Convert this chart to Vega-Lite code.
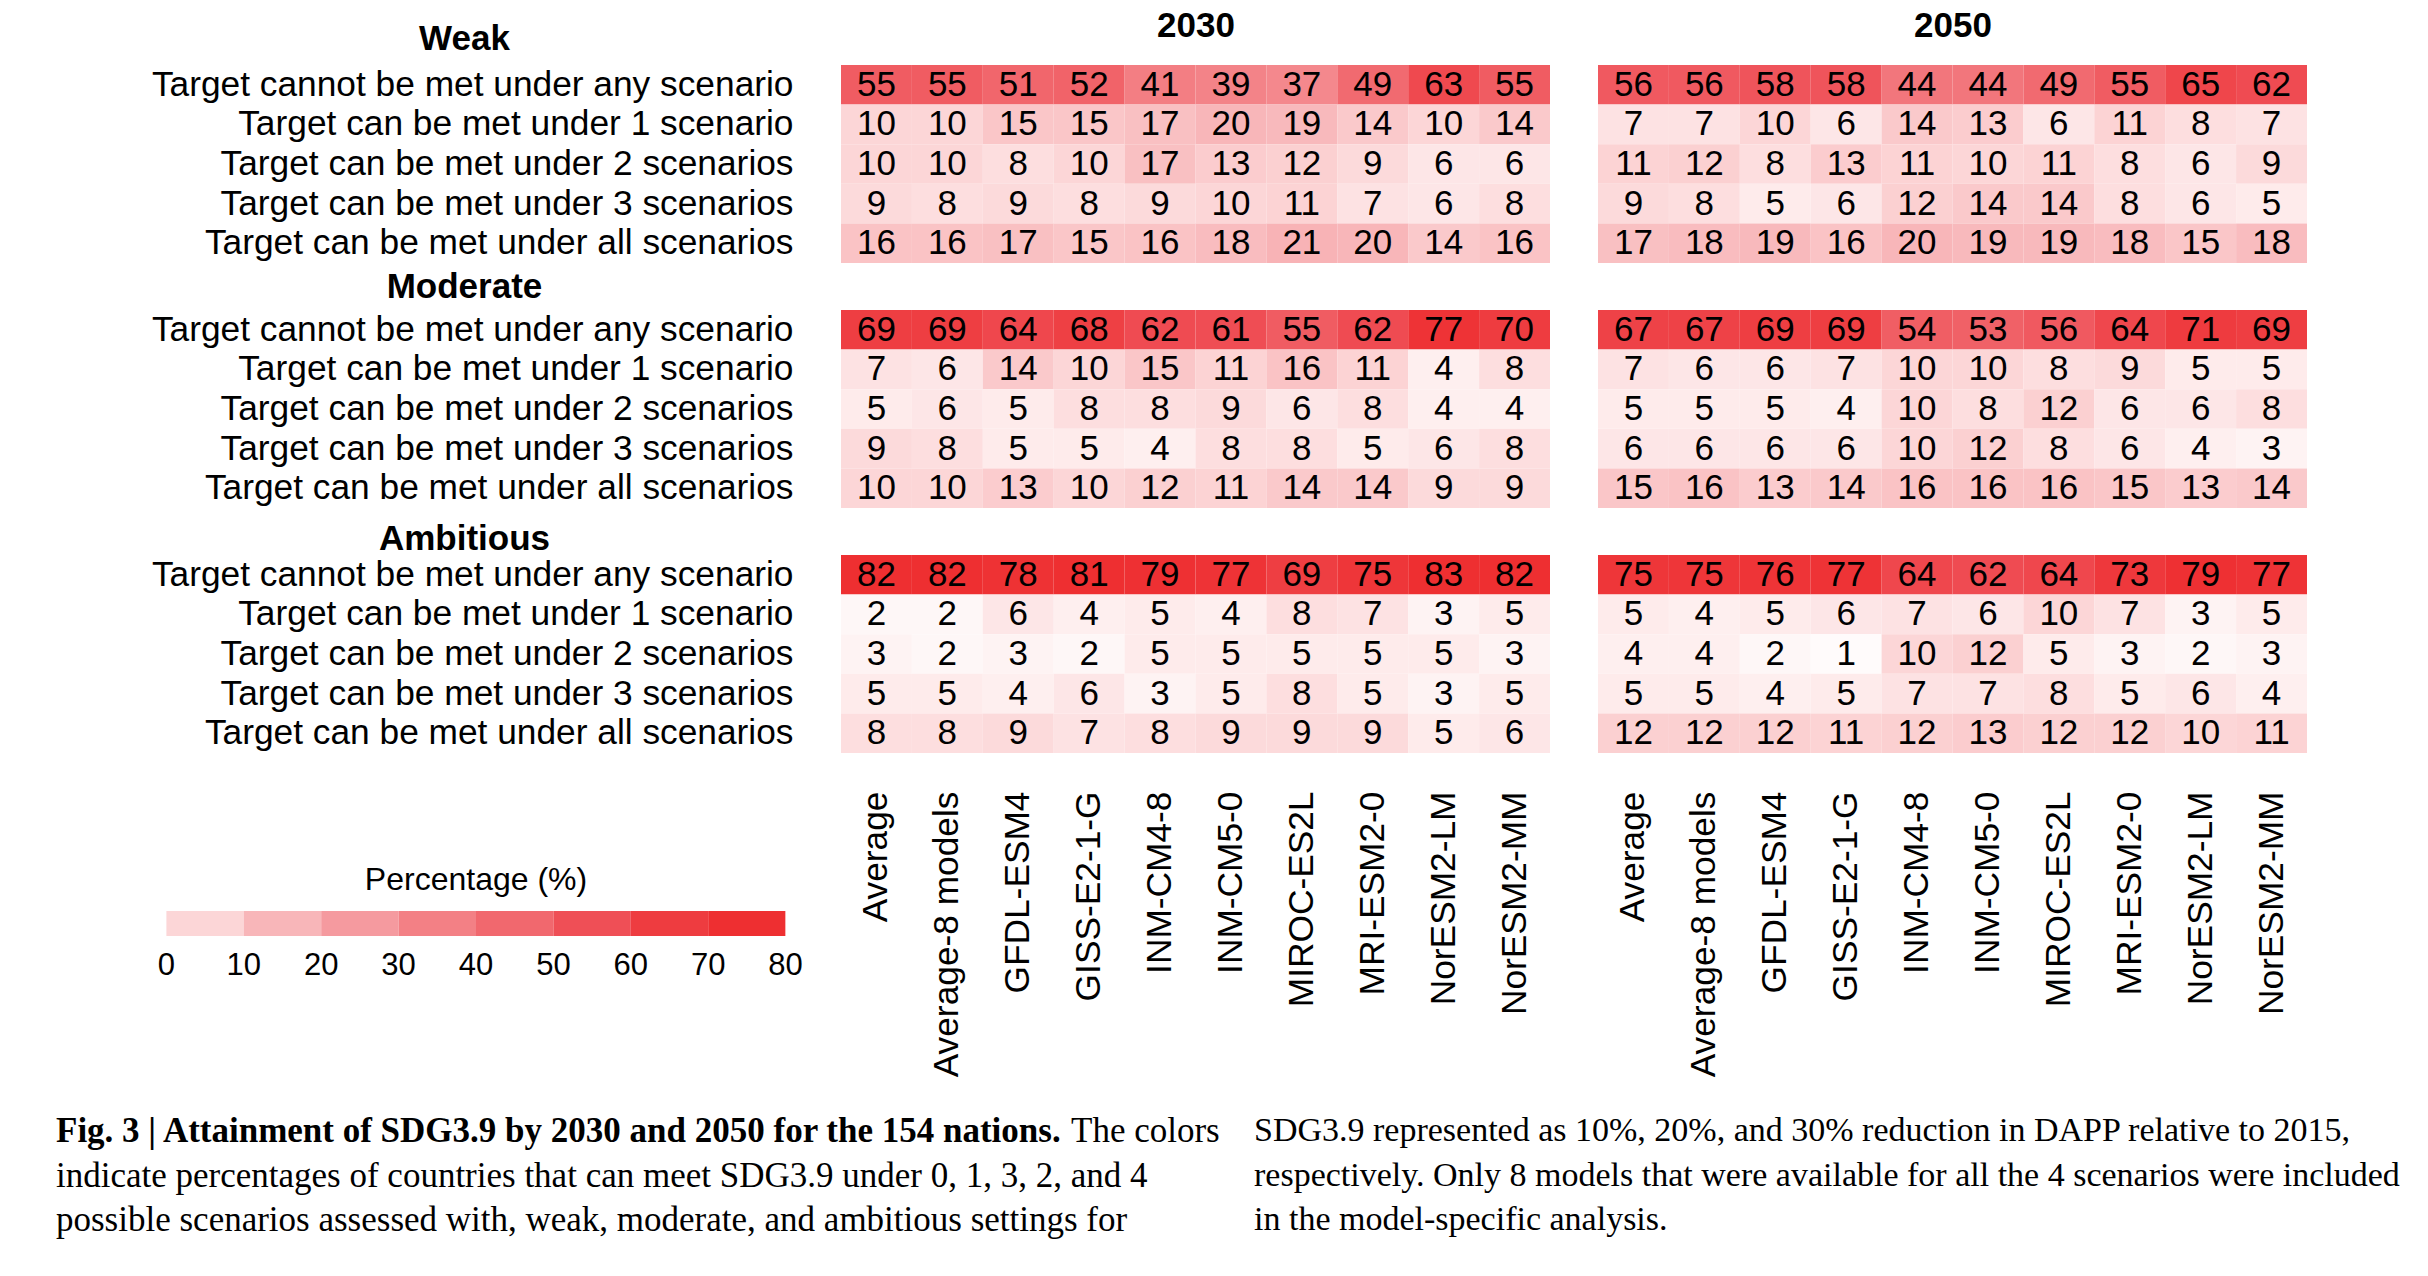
{
"$schema": "https://vega.github.io/schema/vega-lite/v6.json",
"background": "white",
"padding": {"left": 56, "top": 8, "right": 5, "bottom": 5},
"config": {"view": {"stroke": null}, "axis": {"labelColor": "black", "titleColor": "black", "grid": false}},
"datasets": {
"cats": [
{"k":0,"c":"Target cannot be met under any scenario"},
{"k":1,"c":"Target can be met under 1 scenario"},
{"k":2,"c":"Target can be met under 2 scenarios"},
{"k":3,"c":"Target can be met under 3 scenarios"},
{"k":4,"c":"Target can be met under all scenarios"}
],
"caption": [
{"col":0,"line":0,"w":"b","txt":"Fig. 3 | Attainment of SDG3.9 by 2030 and 2050 for the 154 nations."},
{"col":0,"line":0,"w":"r2","txt":"The colors"},
{"col":0,"line":1,"w":"r","txt":"indicate percentages of countries that can meet SDG3.9 under 0, 1, 3, 2, and 4"},
{"col":0,"line":2,"w":"r","txt":"possible scenarios assessed with, weak, moderate, and ambitious settings for"},
{"col":1,"line":0,"w":"r","txt":"SDG3.9 represented as 10%, 20%, and 30% reduction in DAPP relative to 2015,"},
{"col":1,"line":1,"w":"r","txt":"respectively. Only 8 models that were available for all the 4 scenarios were included"},
{"col":1,"line":2,"w":"r","txt":"in the model-specific analysis."}
],
"cells": [
{"s":"Weak","t":2030,"m":"Average","k":0,"v":55},{"s":"Weak","t":2030,"m":"Average-8 models","k":0,"v":55},{"s":"Weak","t":2030,"m":"GFDL-ESM4","k":0,"v":51},{"s":"Weak","t":2030,"m":"GISS-E2-1-G","k":0,"v":52},{"s":"Weak","t":2030,"m":"INM-CM4-8","k":0,"v":41},{"s":"Weak","t":2030,"m":"INM-CM5-0","k":0,"v":39},{"s":"Weak","t":2030,"m":"MIROC-ES2L","k":0,"v":37},{"s":"Weak","t":2030,"m":"MRI-ESM2-0","k":0,"v":49},{"s":"Weak","t":2030,"m":"NorESM2-LM","k":0,"v":63},{"s":"Weak","t":2030,"m":"NorESM2-MM","k":0,"v":55},
{"s":"Weak","t":2030,"m":"Average","k":1,"v":10},{"s":"Weak","t":2030,"m":"Average-8 models","k":1,"v":10},{"s":"Weak","t":2030,"m":"GFDL-ESM4","k":1,"v":15},{"s":"Weak","t":2030,"m":"GISS-E2-1-G","k":1,"v":15},{"s":"Weak","t":2030,"m":"INM-CM4-8","k":1,"v":17},{"s":"Weak","t":2030,"m":"INM-CM5-0","k":1,"v":20},{"s":"Weak","t":2030,"m":"MIROC-ES2L","k":1,"v":19},{"s":"Weak","t":2030,"m":"MRI-ESM2-0","k":1,"v":14},{"s":"Weak","t":2030,"m":"NorESM2-LM","k":1,"v":10},{"s":"Weak","t":2030,"m":"NorESM2-MM","k":1,"v":14},
{"s":"Weak","t":2030,"m":"Average","k":2,"v":10},{"s":"Weak","t":2030,"m":"Average-8 models","k":2,"v":10},{"s":"Weak","t":2030,"m":"GFDL-ESM4","k":2,"v":8},{"s":"Weak","t":2030,"m":"GISS-E2-1-G","k":2,"v":10},{"s":"Weak","t":2030,"m":"INM-CM4-8","k":2,"v":17},{"s":"Weak","t":2030,"m":"INM-CM5-0","k":2,"v":13},{"s":"Weak","t":2030,"m":"MIROC-ES2L","k":2,"v":12},{"s":"Weak","t":2030,"m":"MRI-ESM2-0","k":2,"v":9},{"s":"Weak","t":2030,"m":"NorESM2-LM","k":2,"v":6},{"s":"Weak","t":2030,"m":"NorESM2-MM","k":2,"v":6},
{"s":"Weak","t":2030,"m":"Average","k":3,"v":9},{"s":"Weak","t":2030,"m":"Average-8 models","k":3,"v":8},{"s":"Weak","t":2030,"m":"GFDL-ESM4","k":3,"v":9},{"s":"Weak","t":2030,"m":"GISS-E2-1-G","k":3,"v":8},{"s":"Weak","t":2030,"m":"INM-CM4-8","k":3,"v":9},{"s":"Weak","t":2030,"m":"INM-CM5-0","k":3,"v":10},{"s":"Weak","t":2030,"m":"MIROC-ES2L","k":3,"v":11},{"s":"Weak","t":2030,"m":"MRI-ESM2-0","k":3,"v":7},{"s":"Weak","t":2030,"m":"NorESM2-LM","k":3,"v":6},{"s":"Weak","t":2030,"m":"NorESM2-MM","k":3,"v":8},
{"s":"Weak","t":2030,"m":"Average","k":4,"v":16},{"s":"Weak","t":2030,"m":"Average-8 models","k":4,"v":16},{"s":"Weak","t":2030,"m":"GFDL-ESM4","k":4,"v":17},{"s":"Weak","t":2030,"m":"GISS-E2-1-G","k":4,"v":15},{"s":"Weak","t":2030,"m":"INM-CM4-8","k":4,"v":16},{"s":"Weak","t":2030,"m":"INM-CM5-0","k":4,"v":18},{"s":"Weak","t":2030,"m":"MIROC-ES2L","k":4,"v":21},{"s":"Weak","t":2030,"m":"MRI-ESM2-0","k":4,"v":20},{"s":"Weak","t":2030,"m":"NorESM2-LM","k":4,"v":14},{"s":"Weak","t":2030,"m":"NorESM2-MM","k":4,"v":16},
{"s":"Weak","t":2050,"m":"Average","k":0,"v":56},{"s":"Weak","t":2050,"m":"Average-8 models","k":0,"v":56},{"s":"Weak","t":2050,"m":"GFDL-ESM4","k":0,"v":58},{"s":"Weak","t":2050,"m":"GISS-E2-1-G","k":0,"v":58},{"s":"Weak","t":2050,"m":"INM-CM4-8","k":0,"v":44},{"s":"Weak","t":2050,"m":"INM-CM5-0","k":0,"v":44},{"s":"Weak","t":2050,"m":"MIROC-ES2L","k":0,"v":49},{"s":"Weak","t":2050,"m":"MRI-ESM2-0","k":0,"v":55},{"s":"Weak","t":2050,"m":"NorESM2-LM","k":0,"v":65},{"s":"Weak","t":2050,"m":"NorESM2-MM","k":0,"v":62},
{"s":"Weak","t":2050,"m":"Average","k":1,"v":7},{"s":"Weak","t":2050,"m":"Average-8 models","k":1,"v":7},{"s":"Weak","t":2050,"m":"GFDL-ESM4","k":1,"v":10},{"s":"Weak","t":2050,"m":"GISS-E2-1-G","k":1,"v":6},{"s":"Weak","t":2050,"m":"INM-CM4-8","k":1,"v":14},{"s":"Weak","t":2050,"m":"INM-CM5-0","k":1,"v":13},{"s":"Weak","t":2050,"m":"MIROC-ES2L","k":1,"v":6},{"s":"Weak","t":2050,"m":"MRI-ESM2-0","k":1,"v":11},{"s":"Weak","t":2050,"m":"NorESM2-LM","k":1,"v":8},{"s":"Weak","t":2050,"m":"NorESM2-MM","k":1,"v":7},
{"s":"Weak","t":2050,"m":"Average","k":2,"v":11},{"s":"Weak","t":2050,"m":"Average-8 models","k":2,"v":12},{"s":"Weak","t":2050,"m":"GFDL-ESM4","k":2,"v":8},{"s":"Weak","t":2050,"m":"GISS-E2-1-G","k":2,"v":13},{"s":"Weak","t":2050,"m":"INM-CM4-8","k":2,"v":11},{"s":"Weak","t":2050,"m":"INM-CM5-0","k":2,"v":10},{"s":"Weak","t":2050,"m":"MIROC-ES2L","k":2,"v":11},{"s":"Weak","t":2050,"m":"MRI-ESM2-0","k":2,"v":8},{"s":"Weak","t":2050,"m":"NorESM2-LM","k":2,"v":6},{"s":"Weak","t":2050,"m":"NorESM2-MM","k":2,"v":9},
{"s":"Weak","t":2050,"m":"Average","k":3,"v":9},{"s":"Weak","t":2050,"m":"Average-8 models","k":3,"v":8},{"s":"Weak","t":2050,"m":"GFDL-ESM4","k":3,"v":5},{"s":"Weak","t":2050,"m":"GISS-E2-1-G","k":3,"v":6},{"s":"Weak","t":2050,"m":"INM-CM4-8","k":3,"v":12},{"s":"Weak","t":2050,"m":"INM-CM5-0","k":3,"v":14},{"s":"Weak","t":2050,"m":"MIROC-ES2L","k":3,"v":14},{"s":"Weak","t":2050,"m":"MRI-ESM2-0","k":3,"v":8},{"s":"Weak","t":2050,"m":"NorESM2-LM","k":3,"v":6},{"s":"Weak","t":2050,"m":"NorESM2-MM","k":3,"v":5},
{"s":"Weak","t":2050,"m":"Average","k":4,"v":17},{"s":"Weak","t":2050,"m":"Average-8 models","k":4,"v":18},{"s":"Weak","t":2050,"m":"GFDL-ESM4","k":4,"v":19},{"s":"Weak","t":2050,"m":"GISS-E2-1-G","k":4,"v":16},{"s":"Weak","t":2050,"m":"INM-CM4-8","k":4,"v":20},{"s":"Weak","t":2050,"m":"INM-CM5-0","k":4,"v":19},{"s":"Weak","t":2050,"m":"MIROC-ES2L","k":4,"v":19},{"s":"Weak","t":2050,"m":"MRI-ESM2-0","k":4,"v":18},{"s":"Weak","t":2050,"m":"NorESM2-LM","k":4,"v":15},{"s":"Weak","t":2050,"m":"NorESM2-MM","k":4,"v":18},
{"s":"Moderate","t":2030,"m":"Average","k":0,"v":69},{"s":"Moderate","t":2030,"m":"Average-8 models","k":0,"v":69},{"s":"Moderate","t":2030,"m":"GFDL-ESM4","k":0,"v":64},{"s":"Moderate","t":2030,"m":"GISS-E2-1-G","k":0,"v":68},{"s":"Moderate","t":2030,"m":"INM-CM4-8","k":0,"v":62},{"s":"Moderate","t":2030,"m":"INM-CM5-0","k":0,"v":61},{"s":"Moderate","t":2030,"m":"MIROC-ES2L","k":0,"v":55},{"s":"Moderate","t":2030,"m":"MRI-ESM2-0","k":0,"v":62},{"s":"Moderate","t":2030,"m":"NorESM2-LM","k":0,"v":77},{"s":"Moderate","t":2030,"m":"NorESM2-MM","k":0,"v":70},
{"s":"Moderate","t":2030,"m":"Average","k":1,"v":7},{"s":"Moderate","t":2030,"m":"Average-8 models","k":1,"v":6},{"s":"Moderate","t":2030,"m":"GFDL-ESM4","k":1,"v":14},{"s":"Moderate","t":2030,"m":"GISS-E2-1-G","k":1,"v":10},{"s":"Moderate","t":2030,"m":"INM-CM4-8","k":1,"v":15},{"s":"Moderate","t":2030,"m":"INM-CM5-0","k":1,"v":11},{"s":"Moderate","t":2030,"m":"MIROC-ES2L","k":1,"v":16},{"s":"Moderate","t":2030,"m":"MRI-ESM2-0","k":1,"v":11},{"s":"Moderate","t":2030,"m":"NorESM2-LM","k":1,"v":4},{"s":"Moderate","t":2030,"m":"NorESM2-MM","k":1,"v":8},
{"s":"Moderate","t":2030,"m":"Average","k":2,"v":5},{"s":"Moderate","t":2030,"m":"Average-8 models","k":2,"v":6},{"s":"Moderate","t":2030,"m":"GFDL-ESM4","k":2,"v":5},{"s":"Moderate","t":2030,"m":"GISS-E2-1-G","k":2,"v":8},{"s":"Moderate","t":2030,"m":"INM-CM4-8","k":2,"v":8},{"s":"Moderate","t":2030,"m":"INM-CM5-0","k":2,"v":9},{"s":"Moderate","t":2030,"m":"MIROC-ES2L","k":2,"v":6},{"s":"Moderate","t":2030,"m":"MRI-ESM2-0","k":2,"v":8},{"s":"Moderate","t":2030,"m":"NorESM2-LM","k":2,"v":4},{"s":"Moderate","t":2030,"m":"NorESM2-MM","k":2,"v":4},
{"s":"Moderate","t":2030,"m":"Average","k":3,"v":9},{"s":"Moderate","t":2030,"m":"Average-8 models","k":3,"v":8},{"s":"Moderate","t":2030,"m":"GFDL-ESM4","k":3,"v":5},{"s":"Moderate","t":2030,"m":"GISS-E2-1-G","k":3,"v":5},{"s":"Moderate","t":2030,"m":"INM-CM4-8","k":3,"v":4},{"s":"Moderate","t":2030,"m":"INM-CM5-0","k":3,"v":8},{"s":"Moderate","t":2030,"m":"MIROC-ES2L","k":3,"v":8},{"s":"Moderate","t":2030,"m":"MRI-ESM2-0","k":3,"v":5},{"s":"Moderate","t":2030,"m":"NorESM2-LM","k":3,"v":6},{"s":"Moderate","t":2030,"m":"NorESM2-MM","k":3,"v":8},
{"s":"Moderate","t":2030,"m":"Average","k":4,"v":10},{"s":"Moderate","t":2030,"m":"Average-8 models","k":4,"v":10},{"s":"Moderate","t":2030,"m":"GFDL-ESM4","k":4,"v":13},{"s":"Moderate","t":2030,"m":"GISS-E2-1-G","k":4,"v":10},{"s":"Moderate","t":2030,"m":"INM-CM4-8","k":4,"v":12},{"s":"Moderate","t":2030,"m":"INM-CM5-0","k":4,"v":11},{"s":"Moderate","t":2030,"m":"MIROC-ES2L","k":4,"v":14},{"s":"Moderate","t":2030,"m":"MRI-ESM2-0","k":4,"v":14},{"s":"Moderate","t":2030,"m":"NorESM2-LM","k":4,"v":9},{"s":"Moderate","t":2030,"m":"NorESM2-MM","k":4,"v":9},
{"s":"Moderate","t":2050,"m":"Average","k":0,"v":67},{"s":"Moderate","t":2050,"m":"Average-8 models","k":0,"v":67},{"s":"Moderate","t":2050,"m":"GFDL-ESM4","k":0,"v":69},{"s":"Moderate","t":2050,"m":"GISS-E2-1-G","k":0,"v":69},{"s":"Moderate","t":2050,"m":"INM-CM4-8","k":0,"v":54},{"s":"Moderate","t":2050,"m":"INM-CM5-0","k":0,"v":53},{"s":"Moderate","t":2050,"m":"MIROC-ES2L","k":0,"v":56},{"s":"Moderate","t":2050,"m":"MRI-ESM2-0","k":0,"v":64},{"s":"Moderate","t":2050,"m":"NorESM2-LM","k":0,"v":71},{"s":"Moderate","t":2050,"m":"NorESM2-MM","k":0,"v":69},
{"s":"Moderate","t":2050,"m":"Average","k":1,"v":7},{"s":"Moderate","t":2050,"m":"Average-8 models","k":1,"v":6},{"s":"Moderate","t":2050,"m":"GFDL-ESM4","k":1,"v":6},{"s":"Moderate","t":2050,"m":"GISS-E2-1-G","k":1,"v":7},{"s":"Moderate","t":2050,"m":"INM-CM4-8","k":1,"v":10},{"s":"Moderate","t":2050,"m":"INM-CM5-0","k":1,"v":10},{"s":"Moderate","t":2050,"m":"MIROC-ES2L","k":1,"v":8},{"s":"Moderate","t":2050,"m":"MRI-ESM2-0","k":1,"v":9},{"s":"Moderate","t":2050,"m":"NorESM2-LM","k":1,"v":5},{"s":"Moderate","t":2050,"m":"NorESM2-MM","k":1,"v":5},
{"s":"Moderate","t":2050,"m":"Average","k":2,"v":5},{"s":"Moderate","t":2050,"m":"Average-8 models","k":2,"v":5},{"s":"Moderate","t":2050,"m":"GFDL-ESM4","k":2,"v":5},{"s":"Moderate","t":2050,"m":"GISS-E2-1-G","k":2,"v":4},{"s":"Moderate","t":2050,"m":"INM-CM4-8","k":2,"v":10},{"s":"Moderate","t":2050,"m":"INM-CM5-0","k":2,"v":8},{"s":"Moderate","t":2050,"m":"MIROC-ES2L","k":2,"v":12},{"s":"Moderate","t":2050,"m":"MRI-ESM2-0","k":2,"v":6},{"s":"Moderate","t":2050,"m":"NorESM2-LM","k":2,"v":6},{"s":"Moderate","t":2050,"m":"NorESM2-MM","k":2,"v":8},
{"s":"Moderate","t":2050,"m":"Average","k":3,"v":6},{"s":"Moderate","t":2050,"m":"Average-8 models","k":3,"v":6},{"s":"Moderate","t":2050,"m":"GFDL-ESM4","k":3,"v":6},{"s":"Moderate","t":2050,"m":"GISS-E2-1-G","k":3,"v":6},{"s":"Moderate","t":2050,"m":"INM-CM4-8","k":3,"v":10},{"s":"Moderate","t":2050,"m":"INM-CM5-0","k":3,"v":12},{"s":"Moderate","t":2050,"m":"MIROC-ES2L","k":3,"v":8},{"s":"Moderate","t":2050,"m":"MRI-ESM2-0","k":3,"v":6},{"s":"Moderate","t":2050,"m":"NorESM2-LM","k":3,"v":4},{"s":"Moderate","t":2050,"m":"NorESM2-MM","k":3,"v":3},
{"s":"Moderate","t":2050,"m":"Average","k":4,"v":15},{"s":"Moderate","t":2050,"m":"Average-8 models","k":4,"v":16},{"s":"Moderate","t":2050,"m":"GFDL-ESM4","k":4,"v":13},{"s":"Moderate","t":2050,"m":"GISS-E2-1-G","k":4,"v":14},{"s":"Moderate","t":2050,"m":"INM-CM4-8","k":4,"v":16},{"s":"Moderate","t":2050,"m":"INM-CM5-0","k":4,"v":16},{"s":"Moderate","t":2050,"m":"MIROC-ES2L","k":4,"v":16},{"s":"Moderate","t":2050,"m":"MRI-ESM2-0","k":4,"v":15},{"s":"Moderate","t":2050,"m":"NorESM2-LM","k":4,"v":13},{"s":"Moderate","t":2050,"m":"NorESM2-MM","k":4,"v":14},
{"s":"Ambitious","t":2030,"m":"Average","k":0,"v":82},{"s":"Ambitious","t":2030,"m":"Average-8 models","k":0,"v":82},{"s":"Ambitious","t":2030,"m":"GFDL-ESM4","k":0,"v":78},{"s":"Ambitious","t":2030,"m":"GISS-E2-1-G","k":0,"v":81},{"s":"Ambitious","t":2030,"m":"INM-CM4-8","k":0,"v":79},{"s":"Ambitious","t":2030,"m":"INM-CM5-0","k":0,"v":77},{"s":"Ambitious","t":2030,"m":"MIROC-ES2L","k":0,"v":69},{"s":"Ambitious","t":2030,"m":"MRI-ESM2-0","k":0,"v":75},{"s":"Ambitious","t":2030,"m":"NorESM2-LM","k":0,"v":83},{"s":"Ambitious","t":2030,"m":"NorESM2-MM","k":0,"v":82},
{"s":"Ambitious","t":2030,"m":"Average","k":1,"v":2},{"s":"Ambitious","t":2030,"m":"Average-8 models","k":1,"v":2},{"s":"Ambitious","t":2030,"m":"GFDL-ESM4","k":1,"v":6},{"s":"Ambitious","t":2030,"m":"GISS-E2-1-G","k":1,"v":4},{"s":"Ambitious","t":2030,"m":"INM-CM4-8","k":1,"v":5},{"s":"Ambitious","t":2030,"m":"INM-CM5-0","k":1,"v":4},{"s":"Ambitious","t":2030,"m":"MIROC-ES2L","k":1,"v":8},{"s":"Ambitious","t":2030,"m":"MRI-ESM2-0","k":1,"v":7},{"s":"Ambitious","t":2030,"m":"NorESM2-LM","k":1,"v":3},{"s":"Ambitious","t":2030,"m":"NorESM2-MM","k":1,"v":5},
{"s":"Ambitious","t":2030,"m":"Average","k":2,"v":3},{"s":"Ambitious","t":2030,"m":"Average-8 models","k":2,"v":2},{"s":"Ambitious","t":2030,"m":"GFDL-ESM4","k":2,"v":3},{"s":"Ambitious","t":2030,"m":"GISS-E2-1-G","k":2,"v":2},{"s":"Ambitious","t":2030,"m":"INM-CM4-8","k":2,"v":5},{"s":"Ambitious","t":2030,"m":"INM-CM5-0","k":2,"v":5},{"s":"Ambitious","t":2030,"m":"MIROC-ES2L","k":2,"v":5},{"s":"Ambitious","t":2030,"m":"MRI-ESM2-0","k":2,"v":5},{"s":"Ambitious","t":2030,"m":"NorESM2-LM","k":2,"v":5},{"s":"Ambitious","t":2030,"m":"NorESM2-MM","k":2,"v":3},
{"s":"Ambitious","t":2030,"m":"Average","k":3,"v":5},{"s":"Ambitious","t":2030,"m":"Average-8 models","k":3,"v":5},{"s":"Ambitious","t":2030,"m":"GFDL-ESM4","k":3,"v":4},{"s":"Ambitious","t":2030,"m":"GISS-E2-1-G","k":3,"v":6},{"s":"Ambitious","t":2030,"m":"INM-CM4-8","k":3,"v":3},{"s":"Ambitious","t":2030,"m":"INM-CM5-0","k":3,"v":5},{"s":"Ambitious","t":2030,"m":"MIROC-ES2L","k":3,"v":8},{"s":"Ambitious","t":2030,"m":"MRI-ESM2-0","k":3,"v":5},{"s":"Ambitious","t":2030,"m":"NorESM2-LM","k":3,"v":3},{"s":"Ambitious","t":2030,"m":"NorESM2-MM","k":3,"v":5},
{"s":"Ambitious","t":2030,"m":"Average","k":4,"v":8},{"s":"Ambitious","t":2030,"m":"Average-8 models","k":4,"v":8},{"s":"Ambitious","t":2030,"m":"GFDL-ESM4","k":4,"v":9},{"s":"Ambitious","t":2030,"m":"GISS-E2-1-G","k":4,"v":7},{"s":"Ambitious","t":2030,"m":"INM-CM4-8","k":4,"v":8},{"s":"Ambitious","t":2030,"m":"INM-CM5-0","k":4,"v":9},{"s":"Ambitious","t":2030,"m":"MIROC-ES2L","k":4,"v":9},{"s":"Ambitious","t":2030,"m":"MRI-ESM2-0","k":4,"v":9},{"s":"Ambitious","t":2030,"m":"NorESM2-LM","k":4,"v":5},{"s":"Ambitious","t":2030,"m":"NorESM2-MM","k":4,"v":6},
{"s":"Ambitious","t":2050,"m":"Average","k":0,"v":75},{"s":"Ambitious","t":2050,"m":"Average-8 models","k":0,"v":75},{"s":"Ambitious","t":2050,"m":"GFDL-ESM4","k":0,"v":76},{"s":"Ambitious","t":2050,"m":"GISS-E2-1-G","k":0,"v":77},{"s":"Ambitious","t":2050,"m":"INM-CM4-8","k":0,"v":64},{"s":"Ambitious","t":2050,"m":"INM-CM5-0","k":0,"v":62},{"s":"Ambitious","t":2050,"m":"MIROC-ES2L","k":0,"v":64},{"s":"Ambitious","t":2050,"m":"MRI-ESM2-0","k":0,"v":73},{"s":"Ambitious","t":2050,"m":"NorESM2-LM","k":0,"v":79},{"s":"Ambitious","t":2050,"m":"NorESM2-MM","k":0,"v":77},
{"s":"Ambitious","t":2050,"m":"Average","k":1,"v":5},{"s":"Ambitious","t":2050,"m":"Average-8 models","k":1,"v":4},{"s":"Ambitious","t":2050,"m":"GFDL-ESM4","k":1,"v":5},{"s":"Ambitious","t":2050,"m":"GISS-E2-1-G","k":1,"v":6},{"s":"Ambitious","t":2050,"m":"INM-CM4-8","k":1,"v":7},{"s":"Ambitious","t":2050,"m":"INM-CM5-0","k":1,"v":6},{"s":"Ambitious","t":2050,"m":"MIROC-ES2L","k":1,"v":10},{"s":"Ambitious","t":2050,"m":"MRI-ESM2-0","k":1,"v":7},{"s":"Ambitious","t":2050,"m":"NorESM2-LM","k":1,"v":3},{"s":"Ambitious","t":2050,"m":"NorESM2-MM","k":1,"v":5},
{"s":"Ambitious","t":2050,"m":"Average","k":2,"v":4},{"s":"Ambitious","t":2050,"m":"Average-8 models","k":2,"v":4},{"s":"Ambitious","t":2050,"m":"GFDL-ESM4","k":2,"v":2},{"s":"Ambitious","t":2050,"m":"GISS-E2-1-G","k":2,"v":1},{"s":"Ambitious","t":2050,"m":"INM-CM4-8","k":2,"v":10},{"s":"Ambitious","t":2050,"m":"INM-CM5-0","k":2,"v":12},{"s":"Ambitious","t":2050,"m":"MIROC-ES2L","k":2,"v":5},{"s":"Ambitious","t":2050,"m":"MRI-ESM2-0","k":2,"v":3},{"s":"Ambitious","t":2050,"m":"NorESM2-LM","k":2,"v":2},{"s":"Ambitious","t":2050,"m":"NorESM2-MM","k":2,"v":3},
{"s":"Ambitious","t":2050,"m":"Average","k":3,"v":5},{"s":"Ambitious","t":2050,"m":"Average-8 models","k":3,"v":5},{"s":"Ambitious","t":2050,"m":"GFDL-ESM4","k":3,"v":4},{"s":"Ambitious","t":2050,"m":"GISS-E2-1-G","k":3,"v":5},{"s":"Ambitious","t":2050,"m":"INM-CM4-8","k":3,"v":7},{"s":"Ambitious","t":2050,"m":"INM-CM5-0","k":3,"v":7},{"s":"Ambitious","t":2050,"m":"MIROC-ES2L","k":3,"v":8},{"s":"Ambitious","t":2050,"m":"MRI-ESM2-0","k":3,"v":5},{"s":"Ambitious","t":2050,"m":"NorESM2-LM","k":3,"v":6},{"s":"Ambitious","t":2050,"m":"NorESM2-MM","k":3,"v":4},
{"s":"Ambitious","t":2050,"m":"Average","k":4,"v":12},{"s":"Ambitious","t":2050,"m":"Average-8 models","k":4,"v":12},{"s":"Ambitious","t":2050,"m":"GFDL-ESM4","k":4,"v":12},{"s":"Ambitious","t":2050,"m":"GISS-E2-1-G","k":4,"v":11},{"s":"Ambitious","t":2050,"m":"INM-CM4-8","k":4,"v":12},{"s":"Ambitious","t":2050,"m":"INM-CM5-0","k":4,"v":13},{"s":"Ambitious","t":2050,"m":"MIROC-ES2L","k":4,"v":12},{"s":"Ambitious","t":2050,"m":"MRI-ESM2-0","k":4,"v":12},{"s":"Ambitious","t":2050,"m":"NorESM2-LM","k":4,"v":10},{"s":"Ambitious","t":2050,"m":"NorESM2-MM","k":4,"v":11}
]
},
"bounds": "flush",
"spacing": {"row": 47, "column": 48},
"columns": 2,
"concat": [
 {"data": {"name": "cells"}, "width": 709, "height": 198,
  "transform": [{"filter": "datum.s == 'Weak' && datum.t == 2030"}, {"lookup": "k", "from": {"data": {"name": "cats"}, "key": "k", "fields": ["c"]}}],
  "encoding": {
   "x": {"field": "m", "type": "nominal", "sort": null, "scale": {"paddingInner": 0, "paddingOuter": 0},
         "axis": {"orient": "top", "labels": false, "ticks": false, "domain": false, "title": "2030", "titleFont": "Liberation Sans", "titleFontSize": 35, "titleFontWeight": "bold", "titleBaseline": "alphabetic", "titleY": -29}},
   "y": {"field": "c", "type": "nominal", "sort": {"field": "k", "op": "min"}, "scale": {"paddingInner": 0, "paddingOuter": 0},
         "axis": {"title": "Weak", "titleAngle": 0, "titleAlign": "center", "titleBaseline": "alphabetic", "titleX": -377, "titleY": -16, "titleFont": "Liberation Sans", "titleFontSize": 35, "titleFontWeight": "bold", "labelFont": "Liberation Sans", "labelFontSize": 35.3, "labelPadding": 48, "labelLimit": 0, "ticks": false, "domain": false}}
  },
  "layer": [
   {"mark": {"type": "rect", "strokeWidth": 0}, "encoding": {"fill": {"field": "v", "type": "quantitative", "legend": null, "scale": {"type": "linear", "domain": [0,10,20,30,40,50,60,70,80], "range": ["#ffffff","#fcd6d7","#f8b6b9","#f59a9f","#f38085","#f1686e","#ef4f56","#ee3c40","#ee2f31"], "clamp": true, "interpolate": "rgb"}}}},
   {"mark": {"type": "text", "font": "Liberation Sans", "fontSize": 35, "color": "black"}, "encoding": {"text": {"field": "v", "type": "quantitative"}}}
  ]},
 {"data": {"name": "cells"}, "width": 709, "height": 198,
  "transform": [{"filter": "datum.s == 'Weak' && datum.t == 2050"}, {"lookup": "k", "from": {"data": {"name": "cats"}, "key": "k", "fields": ["c"]}}],
  "encoding": {
   "x": {"field": "m", "type": "nominal", "sort": null, "scale": {"paddingInner": 0, "paddingOuter": 0},
         "axis": {"orient": "top", "labels": false, "ticks": false, "domain": false, "title": "2050", "titleFont": "Liberation Sans", "titleFontSize": 35, "titleFontWeight": "bold", "titleBaseline": "alphabetic", "titleY": -29}},
   "y": {"field": "c", "type": "nominal", "sort": {"field": "k", "op": "min"}, "scale": {"paddingInner": 0, "paddingOuter": 0}, "axis": null}
  },
  "layer": [
   {"mark": {"type": "rect", "strokeWidth": 0}, "encoding": {"fill": {"field": "v", "type": "quantitative", "legend": null, "scale": {"type": "linear", "domain": [0,10,20,30,40,50,60,70,80], "range": ["#ffffff","#fcd6d7","#f8b6b9","#f59a9f","#f38085","#f1686e","#ef4f56","#ee3c40","#ee2f31"], "clamp": true, "interpolate": "rgb"}}}},
   {"mark": {"type": "text", "font": "Liberation Sans", "fontSize": 35, "color": "black"}, "encoding": {"text": {"field": "v", "type": "quantitative"}}}
  ]},
 {"data": {"name": "cells"}, "width": 709, "height": 198,
  "transform": [{"filter": "datum.s == 'Moderate' && datum.t == 2030"}, {"lookup": "k", "from": {"data": {"name": "cats"}, "key": "k", "fields": ["c"]}}],
  "encoding": {
   "x": {"field": "m", "type": "nominal", "sort": null, "scale": {"paddingInner": 0, "paddingOuter": 0}, "axis": null},
   "y": {"field": "c", "type": "nominal", "sort": {"field": "k", "op": "min"}, "scale": {"paddingInner": 0, "paddingOuter": 0},
         "axis": {"title": "Moderate", "titleAngle": 0, "titleAlign": "center", "titleBaseline": "alphabetic", "titleX": -377, "titleY": -13, "titleFont": "Liberation Sans", "titleFontSize": 35, "titleFontWeight": "bold", "labelFont": "Liberation Sans", "labelFontSize": 35.3, "labelPadding": 48, "labelLimit": 0, "ticks": false, "domain": false}}
  },
  "layer": [
   {"mark": {"type": "rect", "strokeWidth": 0}, "encoding": {"fill": {"field": "v", "type": "quantitative", "legend": null, "scale": {"type": "linear", "domain": [0,10,20,30,40,50,60,70,80], "range": ["#ffffff","#fcd6d7","#f8b6b9","#f59a9f","#f38085","#f1686e","#ef4f56","#ee3c40","#ee2f31"], "clamp": true, "interpolate": "rgb"}}}},
   {"mark": {"type": "text", "font": "Liberation Sans", "fontSize": 35, "color": "black"}, "encoding": {"text": {"field": "v", "type": "quantitative"}}}
  ]},
 {"data": {"name": "cells"}, "width": 709, "height": 198,
  "transform": [{"filter": "datum.s == 'Moderate' && datum.t == 2050"}, {"lookup": "k", "from": {"data": {"name": "cats"}, "key": "k", "fields": ["c"]}}],
  "encoding": {
   "x": {"field": "m", "type": "nominal", "sort": null, "scale": {"paddingInner": 0, "paddingOuter": 0}, "axis": null},
   "y": {"field": "c", "type": "nominal", "sort": {"field": "k", "op": "min"}, "scale": {"paddingInner": 0, "paddingOuter": 0}, "axis": null}
  },
  "layer": [
   {"mark": {"type": "rect", "strokeWidth": 0}, "encoding": {"fill": {"field": "v", "type": "quantitative", "legend": null, "scale": {"type": "linear", "domain": [0,10,20,30,40,50,60,70,80], "range": ["#ffffff","#fcd6d7","#f8b6b9","#f59a9f","#f38085","#f1686e","#ef4f56","#ee3c40","#ee2f31"], "clamp": true, "interpolate": "rgb"}}}},
   {"mark": {"type": "text", "font": "Liberation Sans", "fontSize": 35, "color": "black"}, "encoding": {"text": {"field": "v", "type": "quantitative"}}}
  ]},
 {"data": {"name": "cells"}, "width": 709, "height": 198,
  "transform": [{"filter": "datum.s == 'Ambitious' && datum.t == 2030"}, {"lookup": "k", "from": {"data": {"name": "cats"}, "key": "k", "fields": ["c"]}}],
  "encoding": {
   "x": {"field": "m", "type": "nominal", "sort": null, "scale": {"paddingInner": 0, "paddingOuter": 0},
         "axis": {"title": null, "labelAngle": -90, "labelFont": "Liberation Sans", "labelFontSize": 35.3, "labelPadding": 38, "labelLimit": 0, "ticks": false, "domain": false}},
   "y": {"field": "c", "type": "nominal", "sort": {"field": "k", "op": "min"}, "scale": {"paddingInner": 0, "paddingOuter": 0},
         "axis": {"title": "Ambitious", "titleAngle": 0, "titleAlign": "center", "titleBaseline": "alphabetic", "titleX": -377, "titleY": -6, "titleFont": "Liberation Sans", "titleFontSize": 35, "titleFontWeight": "bold", "labelFont": "Liberation Sans", "labelFontSize": 35.3, "labelPadding": 48, "labelLimit": 0, "ticks": false, "domain": false}}
  },
  "layer": [
   {"mark": {"type": "rect", "strokeWidth": 0}, "encoding": {
     "fill": {"field": "v", "type": "quantitative", "legend": null, "scale": {"type": "linear", "domain": [0,10,20,30,40,50,60,70,80], "range": ["#ffffff","#fcd6d7","#f8b6b9","#f59a9f","#f38085","#f1686e","#ef4f56","#ee3c40","#ee2f31"], "clamp": true, "interpolate": "rgb"}},
     "stroke": {"field": "v", "type": "quantitative", "scale": {"type": "quantize", "domain": [-10, 90], "nice": false, "zero": false, "range": ["#ffffff","#fcd6d7","#f8b6b9","#f59a9f","#f38085","#f1686e","#ef4f56","#ee3c40","#ee2f31","#ffffff"]},
       "legend": {"type": "gradient", "title": "Percentage (%)", "orient": "none", "legendX": -752, "legendY": 800, "direction": "horizontal", "gradientLength": 774, "gradientThickness": 25, "gradientStrokeWidth": 0, "titleFont": "Liberation Sans", "titleFontSize": 32, "titleFontWeight": "normal", "titleColor": "black", "titleAnchor": "middle", "titlePadding": 14, "titleLimit": 1000, "labelFont": "Liberation Sans", "labelFontSize": 31, "labelColor": "black", "labelOffset": 15, "labelOverlap": false}}
   }},
   {"mark": {"type": "text", "font": "Liberation Sans", "fontSize": 35, "color": "black"}, "encoding": {"text": {"field": "v", "type": "quantitative"}}}
  ]},
 {"data": {"name": "cells"}, "width": 709, "height": 198,
  "transform": [{"filter": "datum.s == 'Ambitious' && datum.t == 2050"}, {"lookup": "k", "from": {"data": {"name": "cats"}, "key": "k", "fields": ["c"]}}],
  "encoding": {
   "x": {"field": "m", "type": "nominal", "sort": null, "scale": {"paddingInner": 0, "paddingOuter": 0},
         "axis": {"title": null, "labelAngle": -90, "labelFont": "Liberation Sans", "labelFontSize": 35.3, "labelPadding": 38, "labelLimit": 0, "ticks": false, "domain": false}},
   "y": {"field": "c", "type": "nominal", "sort": {"field": "k", "op": "min"}, "scale": {"paddingInner": 0, "paddingOuter": 0}, "axis": null}
  },
  "layer": [
   {"mark": {"type": "rect", "strokeWidth": 0}, "encoding": {"fill": {"field": "v", "type": "quantitative", "legend": null, "scale": {"type": "linear", "domain": [0,10,20,30,40,50,60,70,80], "range": ["#ffffff","#fcd6d7","#f8b6b9","#f59a9f","#f38085","#f1686e","#ef4f56","#ee3c40","#ee2f31"], "clamp": true, "interpolate": "rgb"}}}},
   {"mark": {"type": "text", "font": "Liberation Sans", "fontSize": 35, "color": "black"}, "encoding": {"text": {"field": "v", "type": "quantitative"}}}
  ]},
 {"data": {"name": "caption"}, "width": 709, "height": 1,
  "encoding": {
   "x": {"field": "col", "type": "quantitative", "scale": {"domain": [0, 1], "range": [-785, 413], "nice": false, "zero": false}, "axis": null},
   "y": {"field": "line", "type": "quantitative", "scale": {"domain": [0, 2], "range": [331, 420], "nice": false, "zero": false}, "axis": null},
   "text": {"field": "txt", "type": "nominal"}
  },
  "layer": [
   {"transform": [{"filter": "datum.w == 'b'"}], "mark": {"type": "text", "align": "left", "baseline": "middle", "font": "Liberation Serif", "fontSize": 35, "fontWeight": "bold", "color": "black"}},
   {"transform": [{"filter": "datum.w == 'r' && datum.col == 0"}], "mark": {"type": "text", "align": "left", "baseline": "middle", "font": "Liberation Serif", "fontSize": 35, "color": "black"}},
   {"transform": [{"filter": "datum.w == 'r' && datum.col == 1"}], "mark": {"type": "text", "align": "left", "baseline": "middle", "font": "Liberation Serif", "fontSize": 34, "color": "black"}},
   {"transform": [{"filter": "datum.w == 'r2'"}], "mark": {"type": "text", "align": "left", "baseline": "middle", "font": "Liberation Serif", "fontSize": 35, "color": "black", "dx": 1015}}
  ]}
]
}
